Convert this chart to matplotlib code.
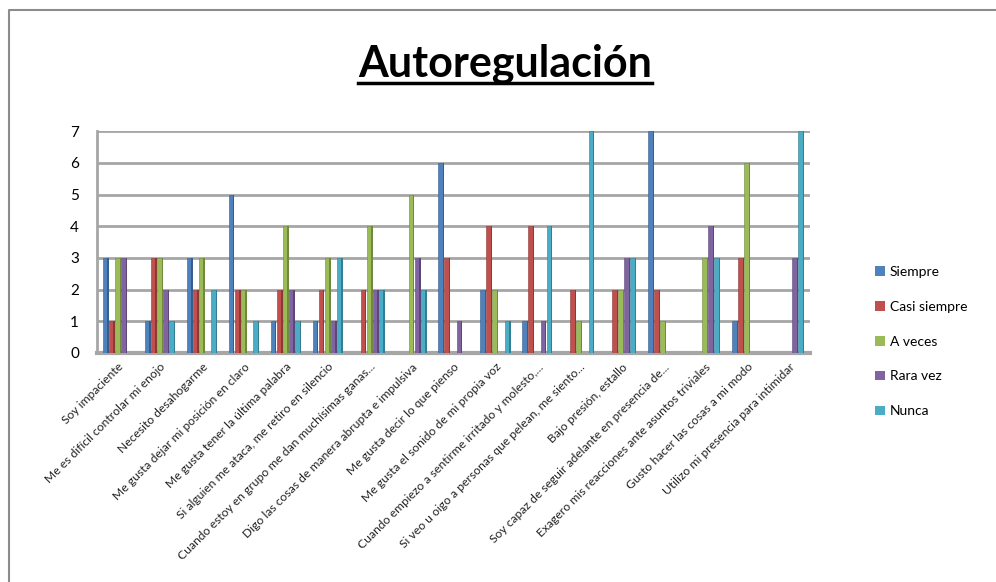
import numpy as np
import matplotlib
matplotlib.use("Agg")
import matplotlib.pyplot as plt
from matplotlib.lines import Line2D
from matplotlib.patches import Patch

plt.rcParams['font.family'] = ['Lato', 'DejaVu Sans']

#%% datos
preguntas = [
    "Soy impaciente",
    "Me es difícil controlar mi enojo",
    "Necesito desahogarme",
    "Me gusta dejar mi posición en claro",
    "Me gusta tener la última palabra",
    "Si alguien me ataca, me retiro en silencio",
    "Cuando estoy en grupo me dan muchísimas ganas...",
    "Digo las cosas de manera abrupta e impulsiva",
    "Me gusta decir lo que pienso",
    "Me gusta el sonido de mi propia voz",
    "Cuando empiezo a sentirme irritado y molesto,...",
    "Si veo u oigo a personas que pelean, me siento...",
    "Bajo presión, estallo",
    "Soy capaz de seguir adelante en presencia de...",
    "Exagero mis reacciones ante asuntos triviales",
    "Gusto hacer las cosas a mi modo",
    "Utilizo mi presencia para intimidar",
]
series = ["Siempre", "Casi siempre", "A veces", "Rara vez", "Nunca"]
siempre      = [3, 1, 3, 5, 1, 1, 0, 0, 6, 2, 1, 0, 0, 7, 0, 1, 0]
casi_siempre = [1, 3, 2, 2, 2, 2, 2, 0, 3, 4, 4, 2, 2, 2, 0, 3, 0]
a_veces      = [3, 3, 3, 2, 4, 3, 4, 5, 0, 2, 0, 1, 2, 1, 3, 6, 0]
rara_vez     = [3, 2, 0, 0, 2, 1, 2, 3, 1, 0, 1, 0, 3, 0, 4, 0, 3]
nunca        = [0, 1, 2, 1, 1, 3, 2, 2, 0, 1, 4, 7, 3, 0, 3, 0, 7]
valores = [siempre, casi_siempre, a_veces, rara_vez, nunca]

colores = ["#4F81BD", "#C0504D", "#9BBB59", "#8064A2", "#4BACC6"]
oscuros = ["#385D8A", "#8C3836", "#71893F", "#5C4776", "#357D91"]

#%% grafico
fig = plt.figure(figsize=(9.96, 5.82), dpi=100)
ax = fig.add_axes([0.0974, 0.3935, 0.716, 0.381])

x = np.arange(len(preguntas))
ancho = 0.145
for i, (vals, c, co) in enumerate(zip(valores, colores, oscuros)):
    pos = x + (i - 2) * ancho
    ax.bar(pos - 0.015, vals, width=ancho - 0.03, color=c, edgecolor=co,
           linewidth=0.4, zorder=3)
    ax.bar(pos + ancho / 2 - 0.02, vals, width=0.03, color=co, linewidth=0, zorder=3)

ax.set_xlim(-0.5, len(preguntas) - 0.5)
ax.set_ylim(0, 7)
ax.set_yticks(range(8))
ax.yaxis.grid(True, color="#A6A6A6", linewidth=2, zorder=0)
for s in ["top", "right"]:
    ax.spines[s].set_visible(False)
ax.spines["left"].set_color("#A6A6A6")
ax.spines["left"].set_linewidth(2)
ax.spines["bottom"].set_color("#A6A6A6")
ax.spines["bottom"].set_linewidth(3)
ax.tick_params(axis="y", length=0, pad=13, labelsize=11)
ax.tick_params(axis="x", length=0, pad=6)
ax.set_xticks(x)
ax.set_xticklabels(preguntas, rotation=45, ha="right", rotation_mode="anchor",
                   fontsize=8.7, color="#222222")

# leyenda
handles = [Patch(facecolor=c, edgecolor="none") for c in colores]
fig.legend(handles, series, loc="upper left", bbox_to_anchor=(0.866, 0.565),
           frameon=False, fontsize=10, labelspacing=1.65, handlelength=0.7,
           handleheight=0.7, handletextpad=0.35)

# titulo subrayado
titulo = fig.text(0.507, 0.868, "Autoregulación", ha="center", va="baseline",
                  fontsize=31, fontweight="bold")
fig.canvas.draw()
bb = titulo.get_window_extent().transformed(fig.transFigure.inverted())
fig.add_artist(Line2D([bb.x0, bb.x1], [0.858, 0.858], color="black",
                      linewidth=2.5, transform=fig.transFigure))

# borde del area del grafico (recortado a derecha y abajo)
fig.add_artist(Line2D([9 / 996, 9 / 996, 1.0], [0.0, 1 - 10 / 582, 1 - 10 / 582],
                      color="#8C8C8C", linewidth=1.5, transform=fig.transFigure))

fig.savefig("out.png", dpi=100)
